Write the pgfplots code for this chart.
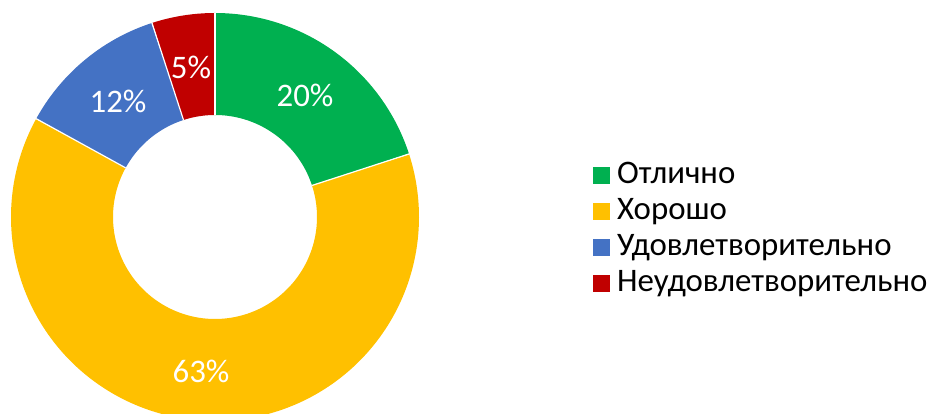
\documentclass[border=0pt]{standalone}
\usepackage{fontspec}
\setmainfont{Carlito}
\usepackage{pgfplots}
\pgfplotsset{compat=1.18}
\definecolor{cgreen}{HTML}{00B050}
\definecolor{cyellow}{HTML}{FFC000}
\definecolor{cblue}{HTML}{4472C4}
\definecolor{cred}{HTML}{C00000}
\begin{document}
\begin{tikzpicture}
\begin{axis}[
  scale only axis, width=931bp, height=414bp,
  xmin=0, xmax=931, ymin=0, ymax=414,
  hide axis, clip=true,
  legend cell align=left,
  legend style={at={(axis cs:593,184)}, anchor=west, draw=none, fill=none,
    font=\fontsize{33}{38}\selectfont, inner sep=0pt, row sep=0bp,
    nodes={inner sep=2bp, text height=24bp, text depth=8bp}},
  legend image code/.code={\fill[#1] (0bp,-8.5bp) rectangle (17bp,8.5bp); \path (0bp,0bp) -- (22bp,0bp);},
]
% slices: values 20, 63, 12, 5 (%), clockwise from top
\addplot[forget plot, cgreen, line width=102bp, domain=18:90, samples=80, variable=\t]
  ({215+153*cos(\t)},{197+153*sin(\t)});
\addplot[forget plot, cyellow, line width=102bp, domain=-208.8:18, samples=200, variable=\t]
  ({215+153*cos(\t)},{197+153*sin(\t)});
\addplot[forget plot, cblue, line width=102bp, domain=-252:-208.8, samples=60, variable=\t]
  ({215+153*cos(\t)},{197+153*sin(\t)});
\addplot[forget plot, cred, line width=102bp, domain=-270:-252, samples=30, variable=\t]
  ({215+153*cos(\t)},{197+153*sin(\t)});
% separators
\addplot[forget plot, white, line width=1.2bp, domain=102:204, samples=2] ({215+x*cos(90)},{197+x*sin(90)});
\addplot[forget plot, white, line width=1.2bp, domain=102:204, samples=2] ({215+x*cos(18)},{197+x*sin(18)});
\addplot[forget plot, white, line width=1.2bp, domain=102:204, samples=2] ({215+x*cos(-208.8)},{197+x*sin(-208.8)});
\addplot[forget plot, white, line width=1.2bp, domain=102:204, samples=2] ({215+x*cos(-252)},{197+x*sin(-252)});
% labels
\addplot[forget plot, only marks, mark=none, nodes near coords, point meta=explicit symbolic,
  every node near coord/.style={anchor=center, text=white, font=\fontsize{33}{38}\selectfont}]
  coordinates {(305,319)[20\%] (201,43)[63\%] (118,313)[12\%] (191,347)[5\%]};
\addlegendimage{cgreen, draw=none}
\addlegendentry{Отлично}
\addlegendimage{cyellow, draw=none}
\addlegendentry{Хорошо}
\addlegendimage{cblue, draw=none}
\addlegendentry{Удовлетворительно}
\addlegendimage{cred, draw=none}
\addlegendentry{Неудовлетворительно}
\end{axis}
\pgfresetboundingbox
\path[use as bounding box] (current axis.south west) rectangle (current axis.north east);
\end{tikzpicture}
\end{document}
